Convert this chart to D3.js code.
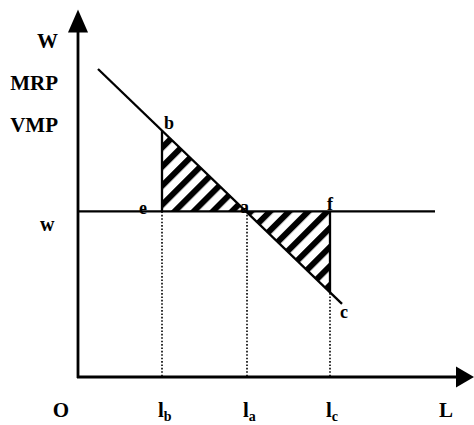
<!DOCTYPE html>
<html><head><meta charset="utf-8">
<script src="https://cdn.jsdelivr.net/npm/d3@7"></script>
<style>body{margin:0;background:#fff}svg{display:block}text{font-family:"Liberation Serif","Times New Roman",serif;font-weight:bold;fill:#000}</style>
</head><body>
<script>
// MRP/VMP demand curve points (labour L, wage W)
const mrpL = [5, 21, 42.25, 63, 66];
const mrpW = [88, 70.4, 47.3, 24.2, 20.9];
const wage = 47.3;
const labourLevels = [21, 42.25, 63];          // l_b, l_a, l_c
const labourNames = ["b", "a", "c"];
const yLabels = ["W", "MRP", "VMP"];
const wLabel = "w";
const xMaxVal = 99, yMaxVal = 105, wageLineEnd = 89.25;

const W = 474, H = 425;
const svg = d3.select("body").append("svg").attr("width", W).attr("height", H);
const x = d3.scaleLinear().domain([0, 100]).range([78, 478]);
const y = d3.scaleLinear().domain([0, 100]).range([377, 27]);

// hatch pattern
const defs = svg.append("defs");
const pat = defs.append("pattern").attr("id", "hatch").attr("patternUnits", "userSpaceOnUse")
  .attr("width", 13.5).attr("height", 13.5).attr("patternTransform", "rotate(45)");
pat.append("rect").attr("x", 0).attr("y", 0).attr("width", 6).attr("height", 13.5).attr("fill", "#000");

const pts = mrpL.map((l, i) => [l, mrpW[i]]);
const tri1 = [[mrpL[1], mrpW[1]], [mrpL[1], wage], [mrpL[2], wage]];
const tri2 = [[mrpL[2], wage], [mrpL[3], wage], [mrpL[3], mrpW[3]]];
const poly = d3.line().x(d => x(d[0])).y(d => y(d[1]));
[tri1, tri2].forEach(t => svg.append("path").attr("d", poly(t) + "Z").attr("fill", "url(#hatch)"));

// dotted verticals
labourLevels.forEach(l => {
  svg.append("line").attr("x1", x(l)).attr("x2", x(l)).attr("y1", y(wage)).attr("y2", y(0))
    .attr("stroke", "#000").attr("stroke-width", 1.6).attr("stroke-dasharray", "1.6,1.8");
});
svg.append("line").attr("x1", x(mrpL[1])).attr("x2", x(mrpL[1])).attr("y1", y(mrpW[1])).attr("y2", y(wage))
  .attr("stroke", "#000").attr("stroke-width", 2.3);
svg.append("line").attr("x1", x(mrpL[3])).attr("x2", x(mrpL[3])).attr("y1", y(wage)).attr("y2", y(mrpW[3]))
  .attr("stroke", "#000").attr("stroke-width", 2.3);

// wage line
svg.append("line").attr("x1", x(0)).attr("x2", x(wageLineEnd)).attr("y1", y(wage)).attr("y2", y(wage))
  .attr("stroke", "#000").attr("stroke-width", 2.3);
// MRP line
svg.append("path").attr("d", poly([pts[0], pts[pts.length - 1]])).attr("stroke", "#000").attr("stroke-width", 2.3).attr("fill", "none");

// axes
svg.append("line").attr("x1", x(0)).attr("x2", x(0)).attr("y1", y(0) + 1).attr("y2", y(yMaxVal) + 10)
  .attr("stroke", "#000").attr("stroke-width", 2.8);
svg.append("line").attr("x1", x(0) - 1).attr("x2", x(xMaxVal) - 10).attr("y1", y(0)).attr("y2", y(0))
  .attr("stroke", "#000").attr("stroke-width", 2.8);
const ty = y(yMaxVal), tx = x(xMaxVal);
svg.append("path").attr("d", `M${x(0)},${ty} L${x(0) - 10},${ty + 23} L${x(0) + 10},${ty + 23} Z`).attr("fill", "#000");
svg.append("path").attr("d", `M${tx},${y(0)} L${tx - 18},${y(0) - 10.5} L${tx - 18},${y(0) + 10.5} Z`).attr("fill", "#000");

// y labels
const ly = [48, 90, 132];
yLabels.forEach((t, i) => svg.append("text").attr("x", 58).attr("y", ly[i]).attr("text-anchor", "end")
  .attr("font-size", 21).text(t));
svg.append("text").attr("x", 40).attr("y", y(wage) + 20).attr("font-size", 20).text(wLabel);

// x labels
svg.append("text").attr("x", 61).attr("y", 417).attr("text-anchor", "middle").attr("font-size", 21).text("O");
svg.append("text").attr("x", 446).attr("y", 417).attr("text-anchor", "middle").attr("font-size", 21).text("L");
labourLevels.forEach((l, i) => {
  const t = svg.append("text").attr("x", x(l) - 4).attr("y", 417).attr("font-size", 21);
  t.append("tspan").text("l");
  t.append("tspan").attr("font-size", 14).attr("dy", 4).text(labourNames[i]);
});

// point labels
const pl = [
  {t: "b", l: mrpL[1], v: mrpW[1], dx: 2, dy: -2},
  {t: "e", l: mrpL[1], v: wage, dx: -23, dy: 3},
  {t: "a", l: mrpL[2], v: wage, dx: -7, dy: 2},
  {t: "f", l: mrpL[3], v: wage, dx: -3, dy: -1},
  {t: "c", l: mrpL[4], v: mrpW[4], dx: -2, dy: 14}
];
pl.forEach(p => svg.append("text").attr("x", x(p.l) + p.dx).attr("y", y(p.v) + p.dy)
  .attr("font-size", 18).text(p.t));
</script>
</body></html>
